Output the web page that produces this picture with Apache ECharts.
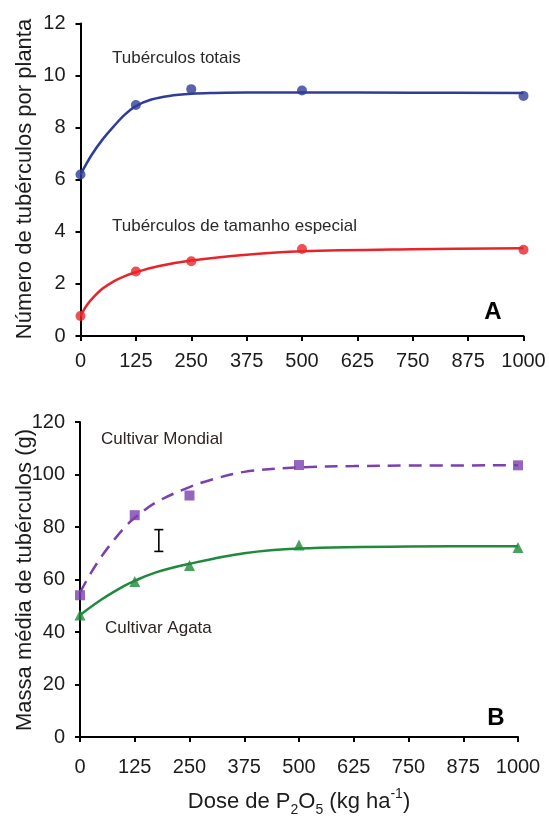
<!DOCTYPE html>
<html>
<head>
<meta charset="utf-8">
<script src="https://cdn.jsdelivr.net/npm/echarts@6/dist/echarts.min.js"></script>
<style>
  html, body { margin: 0; padding: 0; background: #ffffff; }
  #chart { width: 549px; height: 818px; }
</style>
</head>
<body>
<div id="chart"></div>
<script>
// Doses of P2O5 (kg/ha) used in the trial
const doses = [0, 125, 250, 500, 1000];
const xTicks = [0, 125, 250, 375, 500, 625, 750, 875, 1000];

// Panel A: tubers per plant (observed means)
const totalTubers = [6.2, 8.87, 9.48, 9.43, 9.22];
const specialTubers = [0.77, 2.48, 2.87, 3.34, 3.31];

// Panel A: fitted response curves (dose, value)
const totalCurve = [[0, 6.2], [25, 6.95], [50, 7.55], [75, 8.05], [100, 8.5], [125, 8.83], [160, 9.08], [200, 9.22], [250, 9.3], [300, 9.33], [375, 9.35], [500, 9.35], [750, 9.34], [1000, 9.33]];
const specialCurve = [[0, 0.77], [15, 1.2], [30, 1.5], [50, 1.82], [75, 2.1], [100, 2.3], [125, 2.45], [175, 2.68], [250, 2.9], [375, 3.12], [500, 3.25], [750, 3.33], [1000, 3.37]];

// Panel B: mean tuber mass (g) by cultivar
const mondialMass = [54, 84.5, 92, 103.6, 103.5];
const agataMass = [46.5, 59.2, 65.3, 73.1, 72.2];

// Panel B: fitted response curves (dose, value)
const mondialCurve = [[0, 55], [25, 62.5], [50, 69], [75, 74.5], [100, 79.5], [125, 83.5], [175, 89.5], [250, 95.2], [300, 98], [375, 101], [500, 102.7], [625, 103.2], [750, 103.4], [1000, 103.5]];
const agataCurve = [[0, 46.5], [50, 52.5], [100, 57.5], [125, 59.5], [175, 62.8], [250, 66], [375, 70], [500, 71.8], [750, 72.6], [1000, 72.7]];

// Panel B: least significant difference bar (dose position, low, high)
const lsdBar = [[180, 70.7, 79]];

const FONT = '"Liberation Sans", Arial, Helvetica, sans-serif';
const BLUE = '#2f3d98';
const RED = '#e8242a';
const PURPLE = '#7a40b0';
const GREEN = '#1f8a3b';
const TEXT = '#1c1c1c';

const chart = echarts.init(document.getElementById('chart'), null, { renderer: 'canvas' });

function pair(xs, ys) { return xs.map((x, i) => [x, ys[i]]); }

function xAxisOf(gridIndex, margin, extra) {
  return Object.assign({
    gridIndex: gridIndex,
    type: 'value',
    min: 0, max: 1000, interval: 125,
    axisLine: { show: true, onZero: false, lineStyle: { color: '#000', width: 2 } },
    axisTick: { show: true, length: 5, lineStyle: { color: '#000', width: 2 } },
    axisLabel: { color: TEXT, fontSize: 20, fontFamily: FONT, margin: margin,
      customValues: xTicks, formatter: v => String(v) },
    splitLine: { show: false }
  }, extra || {});
}

function yAxisOf(gridIndex, max, interval) {
  return {
    gridIndex: gridIndex,
    type: 'value',
    min: 0, max: max, interval: interval,
    axisLine: { show: true, lineStyle: { color: '#000', width: 2 } },
    axisTick: { show: true, length: 5, lineStyle: { color: '#000', width: 2 } },
    axisLabel: { color: TEXT, fontSize: 20, fontFamily: FONT, margin: 15 },
    splitLine: { show: false }
  };
}

// Smooth fitted curve drawn as a line without symbols
function curve(axisIndex, data, color, dash) {
  return { type: 'line', xAxisIndex: axisIndex, yAxisIndex: axisIndex, data: data, smooth: 0.35,
    showSymbol: false, lineStyle: { color: color, width: 2.5, type: dash || 'solid' }, z: 2 };
}

const option = {
  animation: false,
  backgroundColor: '#ffffff',
  grid: [
    { left: 80.5, right: 25.5, top: 23.5, height: 312.5 },
    { left: 80, right: 31, top: 422, height: 315 }
  ],
  xAxis: [
    xAxisOf(0, 15),
    xAxisOf(1, 20, {
      name: 'Dose de P{sub|2}O{sub|5} (kg ha{sup|-1})',
      nameLocation: 'middle',
      nameGap: 50,
      nameTextStyle: {
        color: TEXT, fontSize: 22, fontFamily: FONT, lineHeight: 30,
        rich: {
          sub: { fontSize: 14, fontFamily: FONT, color: TEXT, lineHeight: 14, verticalAlign: 'bottom' },
          sup: { fontSize: 14, fontFamily: FONT, color: TEXT, lineHeight: 14, verticalAlign: 'top' }
        }
      }
    })
  ],
  yAxis: [
    yAxisOf(0, 12, 2),
    yAxisOf(1, 120, 20)
  ],
  graphic: [
    { type: 'text', x: 25, y: 179, rotation: Math.PI / 2,
      style: { text: 'Número de tubérculos por planta', fill: TEXT, font: '22px ' + FONT, textAlign: 'center', textVerticalAlign: 'middle' } },
    { type: 'text', x: 25, y: 580, rotation: Math.PI / 2,
      style: { text: 'Massa média de tubérculos (g)', fill: TEXT, font: '22px ' + FONT, textAlign: 'center', textVerticalAlign: 'middle' } },
    { type: 'text', x: 112, y: 58,
      style: { text: 'Tubérculos totais', fill: '#2a2a2a', font: '17px ' + FONT, textAlign: 'left', textVerticalAlign: 'middle' } },
    { type: 'text', x: 112, y: 226,
      style: { text: 'Tubérculos de tamanho especial', fill: '#2a2a2a', font: '17px ' + FONT, textAlign: 'left', textVerticalAlign: 'middle' } },
    { type: 'text', x: 493, y: 312,
      style: { text: 'A', fill: '#000', font: 'bold 24px ' + FONT, textAlign: 'center', textVerticalAlign: 'middle' } },
    { type: 'text', x: 101, y: 439,
      style: { text: 'Cultivar Mondial', fill: '#2e2424', font: '17px ' + FONT, textAlign: 'left', textVerticalAlign: 'middle' } },
    { type: 'text', x: 105, y: 628,
      style: { text: 'Cultivar Agata', fill: '#2e2424', font: '17px ' + FONT, textAlign: 'left', textVerticalAlign: 'middle' } },
    { type: 'text', x: 496, y: 718,
      style: { text: 'B', fill: '#000', font: 'bold 24px ' + FONT, textAlign: 'center', textVerticalAlign: 'middle' } }
  ],
  series: [
    // Panel A curves
    curve(0, totalCurve, BLUE),
    curve(0, specialCurve, RED),
    // Panel A observed means
    { type: 'scatter', xAxisIndex: 0, yAxisIndex: 0, data: pair(doses, totalTubers),
      symbol: 'circle', symbolSize: 10, itemStyle: { color: BLUE }, z: 3 },
    { type: 'scatter', xAxisIndex: 0, yAxisIndex: 0, data: pair(doses, specialTubers),
      symbol: 'circle', symbolSize: 10, itemStyle: { color: RED }, z: 3 },
    // Panel B curves
    curve(1, mondialCurve, PURPLE, [13, 8]),
    curve(1, agataCurve, GREEN),
    // Panel B observed means
    { type: 'scatter', xAxisIndex: 1, yAxisIndex: 1, data: pair(doses, mondialMass),
      symbol: 'rect', symbolSize: 10, itemStyle: { color: PURPLE }, z: 3 },
    { type: 'scatter', xAxisIndex: 1, yAxisIndex: 1, data: pair(doses, agataMass),
      symbol: 'triangle', symbolSize: 11, itemStyle: { color: GREEN }, z: 3 },
    // LSD bar
    { type: 'custom', xAxisIndex: 1, yAxisIndex: 1, data: lsdBar,
      encode: { x: 0, y: [1, 2] },
      renderItem: function (params, api) {
        const lo = api.coord([api.value(0), api.value(1)]);
        const hi = api.coord([api.value(0), api.value(2)]);
        const w = 4.5;
        const st = { stroke: '#000', lineWidth: 1.6 };
        return { type: 'group', children: [
          { type: 'line', shape: { x1: lo[0], y1: lo[1], x2: hi[0], y2: hi[1] }, style: st },
          { type: 'line', shape: { x1: hi[0] - w, y1: hi[1], x2: hi[0] + w, y2: hi[1] }, style: st },
          { type: 'line', shape: { x1: lo[0] - w, y1: lo[1], x2: lo[0] + w, y2: lo[1] }, style: st }
        ] };
      }, z: 4 }
  ]
};

chart.setOption(option);
</script>
</body>
</html>
